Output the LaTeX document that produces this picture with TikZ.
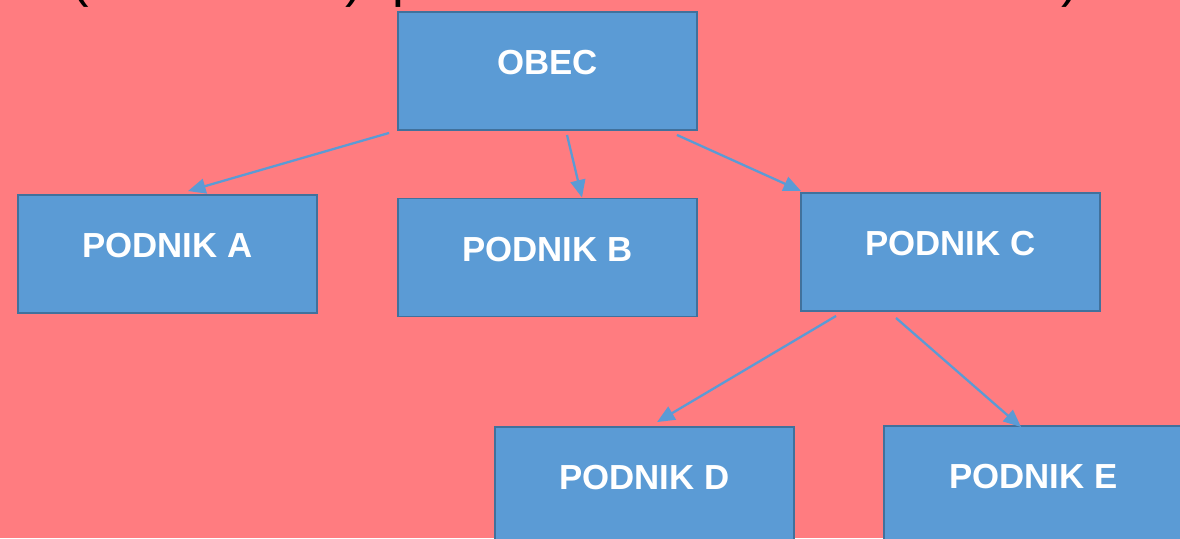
\documentclass[tikz,border=0pt]{standalone}
\usepackage{fontspec}
\setmainfont{Liberation Sans}
\usetikzlibrary{arrows.meta,calc}
\definecolor{BackClr}{RGB}{255,124,128}
\definecolor{BoxClr}{RGB}{91,155,213}
\definecolor{EdgeClr}{RGB}{65,113,156}

\begin{document}
\begin{tikzpicture}[x=0.02cm,y=-0.02cm,
  podbox/.style={draw=EdgeClr,fill=BoxClr,line width=1.1pt,
    minimum width=5.98cm,minimum height=2.36cm,inner sep=0pt,
    text=white,font=\fontsize{19.8}{24}\bfseries,
    text height=14pt,text depth=10pt},
  link/.style={draw=BoxClr,line width=1.3pt,
    -{Triangle[length=10pt,width=8.5pt]}}]

% Background and page size.
\fill[BackClr] (0,0) rectangle (1180,538);
\useasboundingbox (0,0) rectangle (1180,538);

% Remains of the title line, cut off by the page edge.
\begin{scope}[font=\fontsize{30}{36}\selectfont]
\node[anchor=base,inner sep=0pt] (lparen) at (80,-3.4) {(};
\node[anchor=base,inner sep=0pt] (rparen) at (354,-3.4) {)};
\node[anchor=base west,inner sep=0pt] (pletter) at (392,-3.4) {p};
\node[anchor=base,inner sep=0pt] (rparenb) at (1070,-3.4) {)};
\end{scope}

% Boxes.
\node[podbox] (obec) at (547.5,71) {OBEC};
\node[podbox] (podA) at (167.5,254) {PODNIK A};
\node[podbox] (podB) at (547.5,257.5) {PODNIK B};
\node[podbox] (podC) at (950.5,252) {PODNIK C};
\node[podbox] (podD) at (644.5,486) {PODNIK D};
\node[podbox] (podE) at (1033.5,485) {PODNIK E};

% Arrows.
\draw[link] ($(obec.south west)+(-8,2)$) -- ($(podA.north)+(20.5,-3)$);
\draw[link] ($(obec.south)+(19.5,4)$) -- ($(podB.north)+(34.5,0)$);
\draw[link] ($(obec.south east)+(-21,4)$) -- ($(podC.north west)+(1,-1)$);
\draw[link] ($(podC.south west)+(36,4)$) -- ($(podD.north west)+(163,-4)$);
\draw[link] ($(podC.south)+(-54.5,6)$) -- ($(podE.north west)+(138,2)$);

\end{tikzpicture}
\end{document}
